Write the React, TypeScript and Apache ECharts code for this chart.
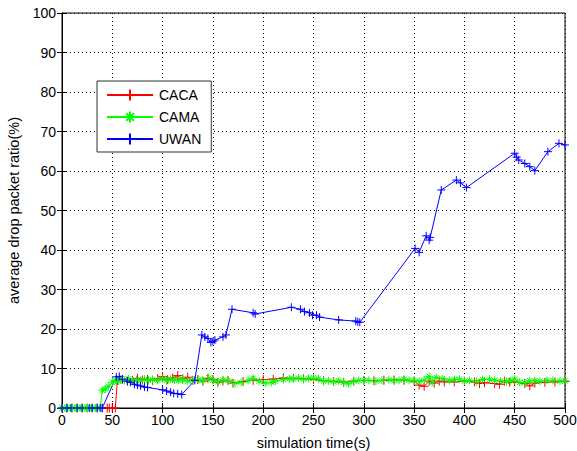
import React, { useEffect, useRef } from "react";
import * as echarts from "echarts";

const seriesNames = ["CACA", "CAMA", "UWAN"];

const cacaX = [0, 5, 10, 15, 20, 25, 30, 35, 40, 45, 47, 50, 53, 55, 60, 65, 70, 75, 80, 85, 90, 95, 100, 105, 110, 115, 120, 125, 130, 135, 140, 145, 150, 155, 160, 165, 170, 180, 190, 200, 210, 220, 230, 240, 250, 260, 270, 280, 290, 300, 310, 320, 330, 340, 350, 355, 360, 365, 370, 375, 380, 390, 400, 410, 415, 420, 430, 435, 440, 445, 450, 460, 465, 470, 480, 490, 500];
const cacaY = [0, 0, 0, 0, 0, 0, 0, 0, 0, 0, 0, 0, 0, 7.0, 7.2, 6.8, 7.0, 7.5, 7.1, 7.3, 7.0, 7.4, 8.0, 7.2, 7.6, 8.2, 7.4, 7.8, 7.0, 7.2, 6.8, 7.5, 7.2, 6.5, 6.8, 7.0, 6.3, 6.7, 7.0, 7.2, 7.3, 7.6, 7.5, 7.4, 7.2, 6.9, 6.7, 6.5, 6.8, 7.0, 6.9, 7.0, 7.1, 7.0, 6.8, 5.8, 5.5, 6.8, 6.3, 6.8, 6.6, 6.6, 6.8, 6.6, 6.2, 6.4, 6.2, 6.0, 6.8, 6.5, 6.6, 6.2, 5.6, 6.3, 6.5, 6.6, 6.7];

const camaX = [0, 3, 5, 8, 10, 13, 15, 18, 20, 23, 25, 28, 30, 33, 35, 38, 40, 43, 46, 50, 53, 56, 58, 62, 66, 70, 74, 78, 82, 86, 90, 95, 100, 104, 108, 112, 116, 120, 125, 130, 136, 140, 146, 150, 155, 160, 165, 172, 178, 185, 190, 196, 202, 208, 212, 220, 226, 230, 235, 240, 245, 250, 255, 260, 265, 270, 275, 280, 285, 290, 295, 300, 305, 312, 318, 325, 330, 335, 340, 345, 350, 355, 360, 365, 368, 372, 378, 385, 390, 395, 400, 405, 412, 418, 425, 430, 436, 442, 446, 450, 455, 460, 465, 470, 475, 482, 488, 495, 500];
const camaY = [0, 0, 0, 0, 0, 0, 0, 0, 0, 0, 0, 0, 0, 0, 0, 0, 4.5, 4.8, 5.5, 6.5, 7.0, 6.8, 7.2, 7.0, 7.4, 6.8, 7.1, 6.9, 7.3, 7.0, 7.2, 7.0, 7.4, 6.9, 7.3, 7.1, 7.0, 7.2, 6.8, 7.0, 7.2, 6.9, 7.6, 7.0, 6.6, 7.1, 7.0, 6.2, 6.5, 7.0, 7.5, 6.8, 6.3, 6.5, 6.8, 7.2, 7.4, 7.3, 7.6, 7.3, 7.5, 7.6, 7.4, 6.8, 6.9, 6.6, 6.9, 6.5, 6.1, 6.8, 7.0, 7.0, 7.0, 6.8, 7.0, 7.2, 6.9, 7.0, 7.3, 7.0, 7.0, 6.7, 7.1, 8.0, 6.5, 7.7, 7.4, 7.0, 7.2, 7.3, 6.8, 7.0, 6.7, 7.2, 7.3, 7.0, 6.8, 6.7, 6.9, 7.3, 6.5, 6.4, 6.9, 6.9, 6.8, 7.0, 7.0, 6.8, 6.9];

const uwanX = [0, 5, 9, 15, 20, 27, 30, 35, 38, 40, 54, 57, 60, 65, 68, 72, 75, 78, 82, 85, 100, 104, 108, 111, 115, 119, 132, 139, 142, 145, 148, 150, 152, 160, 163, 169, 190, 192, 228, 237, 241, 246, 249, 253, 256, 275, 292, 294, 296, 351, 355, 362, 365, 366, 377, 392, 396, 402, 450, 452, 454, 460, 465, 470, 483, 494, 500];
const uwanY = [0, 0, 0, 0, 0, 0, 0, 0, 0, 0, 7.9, 8.0, 7.3, 6.8, 6.5, 6.0, 5.8, 5.6, 5.3, 5.2, 4.6, 4.3, 4.0, 3.7, 3.6, 3.4, 7.0, 18.5, 18.0, 17.6, 16.6, 16.8, 17.2, 18.0, 18.5, 25.0, 24.1, 23.8, 25.5, 25.0, 24.4, 24.1, 23.5, 23.5, 23.0, 22.3, 22.0, 21.8, 21.7, 40.4, 39.4, 43.6, 42.5, 43.2, 55.2, 57.7, 57.0, 55.8, 64.5, 63.5, 62.8, 61.9, 61.1, 60.1, 64.9, 67.0, 66.6];

const xTicksMax = 500;
const yTicksMax = 100;

const PLUS = "path://M5,0L5,10M0,5L10,5";
const STAR = "path://M5,0L5,10M0,5L10,5M1.6,1.6L8.4,8.4M8.4,1.6L1.6,8.4";

function zip(xs: number[], ys: number[]) {
  return xs.map((x, i) => [x, ys[i]]);
}

export default function App() {
  const ref = useRef<HTMLDivElement>(null);
  useEffect(() => {
    document.body.style.margin = "0";
    const chart = echarts.init(ref.current!, null, { renderer: "svg" });
    const font = "'Liberation Sans', Arial, Helvetica, sans-serif";
    const mk = (name: string, color: string, symbol: string, size: number, data: number[][]) => ({
      name,
      type: "line",
      data,
      symbol,
      symbolSize: size,
      showAllSymbol: true,
      lineStyle: { color, width: 1 },
      itemStyle: { color, borderColor: color, borderWidth: 1 },
      emphasis: { disabled: true },
    });
    chart.setOption({
      animation: false,
      backgroundColor: "#fff",
      textStyle: { fontFamily: font },
      grid: {
        left: 62,
        top: 13,
        right: 12,
        bottom: 43,
        show: true,
        borderColor: "#000",
        borderWidth: 1,
        containLabel: false,
        outerBoundsMode: "none",
      },
      legend: {
        data: seriesNames,
        orient: "vertical",
        left: 97,
        top: 81,
        padding: [7, 10, 6, 9],
        itemWidth: 46,
        itemHeight: 14,
        itemGap: 8,
        borderColor: "#333",
        borderWidth: 1,
        backgroundColor: "#fff",
        textStyle: { fontSize: 14, color: "#000", fontFamily: font, padding: [0, 0, 0, 1] },
      },
      xAxis: [
        {
          type: "value",
          min: 0,
          max: xTicksMax,
          interval: 50,
          name: "simulation time(s)",
          nameLocation: "middle",
          nameGap: 27,
          nameTextStyle: { fontSize: 14.5, color: "#000" },
          axisLine: { lineStyle: { color: "#000" } },
          axisTick: { inside: true, length: 5, lineStyle: { color: "#000" } },
          axisLabel: { fontSize: 14, color: "#000", margin: 5 },
          splitLine: { show: true, lineStyle: { color: "#000", type: [1, 3], width: 1 } },
        },
        {
          type: "value",
          position: "top",
          min: 0,
          max: xTicksMax,
          interval: 50,
          axisLine: { lineStyle: { color: "#000" } },
          axisTick: { inside: true, length: 5, lineStyle: { color: "#000" } },
          axisLabel: { show: false },
          splitLine: { show: false },
        },
      ],
      yAxis: [
        {
          type: "value",
          min: 0,
          max: yTicksMax,
          interval: 10,
          name: "average drop packet ratio(%)",
          nameLocation: "middle",
          nameGap: 32,
          nameTextStyle: { fontSize: 14.5, color: "#000" },
          axisLine: { show: true, lineStyle: { color: "#000" } },
          axisTick: { show: true, inside: true, length: 5, lineStyle: { color: "#000" } },
          axisLabel: { fontSize: 14, color: "#000", margin: 6 },
          splitLine: { show: true, lineStyle: { color: "#000", type: [1, 3], width: 1 } },
        },
        {
          type: "value",
          position: "right",
          min: 0,
          max: yTicksMax,
          interval: 10,
          axisLine: { show: true, lineStyle: { color: "#000" } },
          axisTick: { show: true, inside: true, length: 5, lineStyle: { color: "#000" } },
          axisLabel: { show: false },
          splitLine: { show: false },
        },
      ],
      series: [
        mk("CACA", "#ff0000", PLUS, 9, zip(cacaX, cacaY)),
        mk("CAMA", "#00ff00", STAR, 8, zip(camaX, camaY)),
        mk("UWAN", "#0000ff", PLUS, 8, zip(uwanX, uwanY)),
      ],
    });
    return () => chart.dispose();
  }, []);
  return <div ref={ref} style={{ width: 577, height: 451 }} />;
}
